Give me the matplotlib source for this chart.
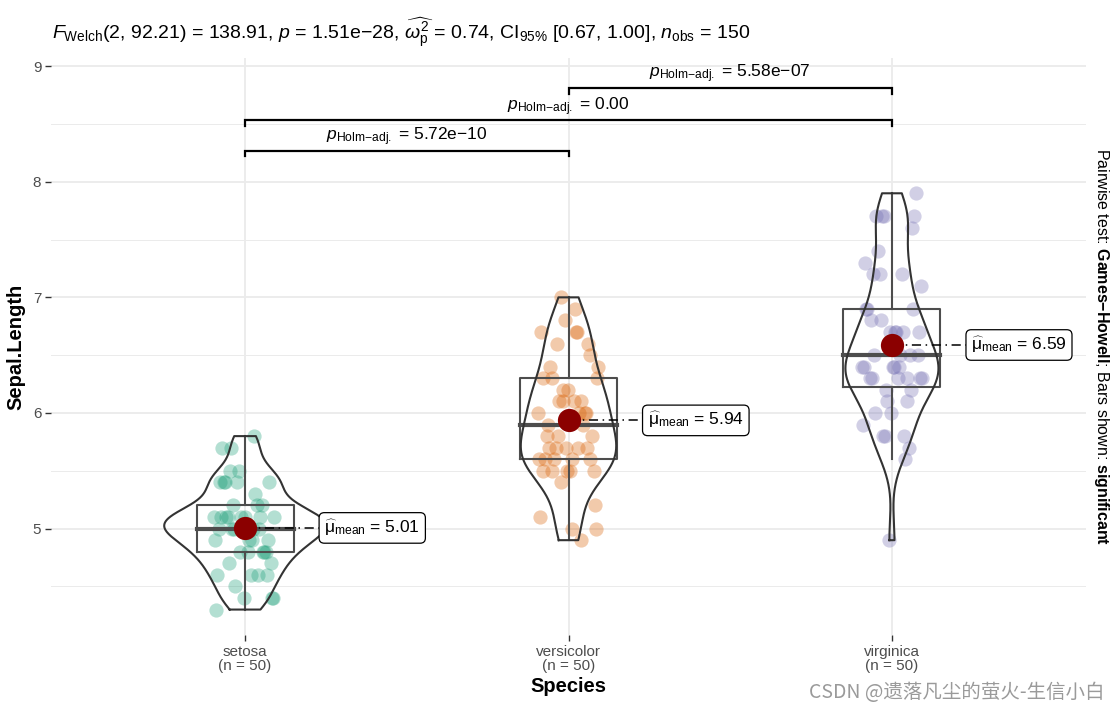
import numpy as np
import matplotlib
matplotlib.use("Agg")
import matplotlib.pyplot as plt

plt.rcParams['font.family'] = ['Liberation Sans', 'DejaVu Sans']
plt.rcParams['mathtext.fontset'] = 'custom'
plt.rcParams['mathtext.rm'] = 'Liberation Sans'
plt.rcParams['mathtext.it'] = 'Liberation Sans:italic'
plt.rcParams['mathtext.bf'] = 'Liberation Sans:bold'

# iris Sepal.Length by species
species = ['setosa', 'versicolor', 'virginica']
setosa = [5.1, 4.9, 4.7, 4.6, 5.0, 5.4, 4.6, 5.0, 4.4, 4.9, 5.4, 4.8, 4.8, 4.3, 5.8, 5.7, 5.4,
          5.1, 5.7, 5.1, 5.4, 5.1, 4.6, 5.1, 4.8, 5.0, 5.0, 5.2, 5.2, 4.7, 4.8, 5.4, 5.2, 5.5,
          4.9, 5.0, 5.5, 4.9, 4.4, 5.1, 5.0, 4.5, 4.4, 5.0, 5.1, 4.8, 5.1, 4.6, 5.3, 5.0]
versicolor = [7.0, 6.4, 6.9, 5.5, 6.5, 5.7, 6.3, 4.9, 6.6, 5.2, 5.0, 5.9, 6.0, 6.1, 5.6, 6.7, 5.6,
              5.8, 6.2, 5.6, 5.9, 6.1, 6.3, 6.1, 6.4, 6.6, 6.8, 6.7, 6.0, 5.7, 5.5, 5.5, 5.8, 6.0,
              5.4, 6.0, 6.7, 6.3, 5.6, 5.5, 5.5, 6.1, 5.8, 5.0, 5.6, 5.7, 5.7, 6.2, 5.1, 5.7]
virginica = [6.3, 5.8, 7.1, 6.3, 6.5, 7.6, 4.9, 7.3, 6.7, 7.2, 6.5, 6.4, 6.8, 5.7, 5.8, 6.4, 6.5,
             7.7, 7.7, 6.0, 6.9, 5.6, 7.7, 6.3, 6.7, 7.2, 6.2, 6.1, 6.4, 7.2, 7.4, 7.9, 6.4, 6.3,
             6.1, 7.7, 6.3, 6.4, 6.0, 6.9, 6.7, 6.9, 5.8, 6.8, 6.7, 6.7, 6.3, 6.5, 6.2, 5.9]
groups = [setosa, versicolor, virginica]
colors = ['#1B9E77', '#D95F02', '#7570B3']

# pairwise comparisons (group index pairs, label text)
pairs = [(0, 1), (0, 2), (1, 2)]
pair_p = ['5.72e\u221210', '0.00', '5.58e\u221207']
pair_y = [8.27, 8.53, 8.81]

title = (r"$F_{\mathrm{Welch}}$(2, 92.21) = 138.91, $p$ = 1.51e$-$28, "
         r"$\widehat{\omega_{\mathrm{p}}^{2}}$ = 0.74, CI$_{95\%}$ [0.67, 1.00], $n_{\mathrm{obs}}$ = 150")


def kde(vals, grid):
    v = np.asarray(vals)
    q75, q25 = np.percentile(v, [75, 25])
    bw = 0.9 * min(v.std(ddof=1), (q75 - q25) / 1.34) * len(v) ** -0.2
    z = (grid[:, None] - v[None, :]) / bw
    return np.exp(-0.5 * z ** 2).sum(axis=1) / (len(v) * bw * np.sqrt(2 * np.pi))


fig = plt.figure(figsize=(11.2, 7.12), dpi=100)
ax = fig.add_axes([51 / 1120, 77 / 712, 1035 / 1120, 577 / 712])

xs = np.arange(1, len(groups) + 1)
dens = []
for g in groups:
    grid = np.linspace(min(g), max(g), 512)
    dens.append((grid, kde(g, grid)))
dmax = max(d.max() for _, d in dens)

for i, (g, x0) in enumerate(zip(groups, xs)):
    g = np.asarray(g)
    # jittered points
    off = ((np.arange(len(g)) * 0.6180339887 + 0.37 * i) % 1.0 - 0.5) * 0.19
    ax.scatter(x0 + off, g, s=105, color=colors[i], alpha=0.33, linewidths=0, zorder=2)

    # boxplot
    q1, med, q3 = np.percentile(g, [25, 50, 75])
    iqr = q3 - q1
    lo = g[g >= q1 - 1.5 * iqr].min()
    hi = g[g <= q3 + 1.5 * iqr].max()
    bc = '#4D4D4D'
    ax.plot([x0 - 0.15, x0 + 0.15, x0 + 0.15, x0 - 0.15, x0 - 0.15], [q1, q1, q3, q3, q1],
            color=bc, lw=1.5, zorder=3)
    ax.plot([x0 - 0.15, x0 + 0.15], [med, med], color=bc, lw=3, zorder=3)
    ax.plot([x0, x0], [lo, q1], color=bc, lw=1.5, zorder=3)
    ax.plot([x0, x0], [q3, hi], color=bc, lw=1.5, zorder=3)

    # violin
    grid, d = dens[i]
    w = d / dmax * 0.25
    vx = np.concatenate([x0 - w, (x0 + w)[::-1], [x0 - w[0]]])
    vy = np.concatenate([grid, grid[::-1], [grid[0]]])
    ax.plot(vx, vy, color='#333333', lw=1.5, zorder=4)

    # mean + label
    m = g.mean()
    ax.plot([x0, x0 + 0.23], [m, m], color='black', lw=1.1, ls=(0, (6, 3, 1, 3)), zorder=5)
    ax.scatter([x0], [m], s=280, color='#8B0000', zorder=6, linewidths=0)
    ax.text(x0 + 0.245, m, r"$\widehat{\mathrm{\mu}}_{\mathrm{mean}}$ = " + f"{m:.2f}",
            fontsize=12.5, ha='left', va='center', zorder=7,
            bbox=dict(boxstyle='round,pad=0.3,rounding_size=0.3', fc='white', ec='black', lw=0.9))

# significance brackets
for (a, b), lab, yb in zip(pairs, pair_p, pair_y):
    xa, xb = xs[a], xs[b]
    ax.plot([xa, xa, xb, xb], [yb - 0.05, yb, yb, yb - 0.05], color='black', lw=1.6,
            zorder=5, solid_joinstyle='miter')
    ax.text((xa + xb) / 2, yb + 0.025, r"$p_{\mathrm{Holm{-}adj.}}$ = " + lab, fontsize=12.5,
            ha='center', va='bottom', zorder=5)

ax.set_xlim(0.4, 3.6)
ax.set_ylim(4.08, 9.07)
ax.set_yticks([5, 6, 7, 8, 9])
ax.set_yticks([4.5, 5.5, 6.5, 7.5, 8.5], minor=True)
ax.set_xticks(xs)
ax.set_xticklabels([f"{s}\n(n = {len(g)})" for s, g in zip(species, groups)],
                   linespacing=1.0)
ax.grid(True, which='major', color='#EBEBEB', lw=1.3)
ax.grid(True, which='minor', axis='y', color='#EBEBEB', lw=0.7)
ax.set_axisbelow(True)
for sp in ax.spines.values():
    sp.set_visible(False)
ax.tick_params(axis='both', which='major', length=4, width=1, color='#333333',
               labelcolor='#4D4D4D', labelsize=11, pad=3)
ax.tick_params(axis='both', which='minor', length=0)
ax.set_xlabel('Species', fontsize=14.5, fontweight='bold', labelpad=3)
ax.set_ylabel('Sepal.Length', fontsize=14.5, fontweight='bold', labelpad=5)

fig.text(52 / 1120, 1 - 33 / 712, title, fontsize=14, ha='left', va='center')
fig.text(1101 / 1120, 1 - 347 / 712,
         r"Pairwise test: $\mathbf{Games{-}Howell}$; Bars shown: $\mathbf{significant}$",
         rotation=270, fontsize=11.5, ha='center', va='center')
fig.text(1105 / 1120, 1 - 692 / 712, 'CSDN @遗落凡尘的萤火-生信小白', fontsize=14,
         color='#9A9A9A', ha='right', va='center', family=['Noto Sans CJK SC', 'DejaVu Sans'])

fig.savefig('out.png', dpi=100)
